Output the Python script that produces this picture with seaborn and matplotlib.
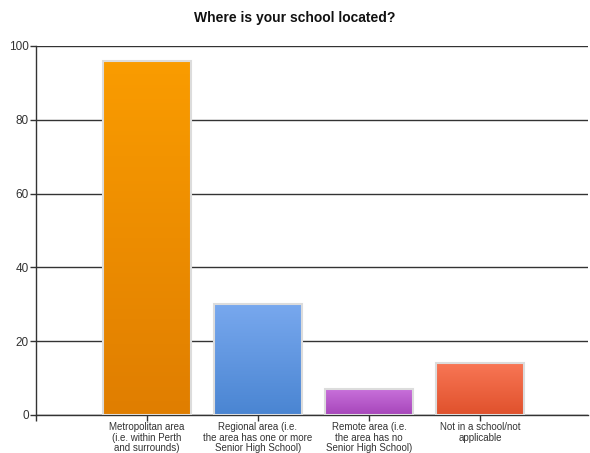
import numpy as np
import pandas as pd
import matplotlib
matplotlib.use("Agg")
import matplotlib.pyplot as plt
import seaborn as sns

categories = [
    "Metropolitan area\n(i.e. within Perth\nand surrounds)",
    "Regional area (i.e.\nthe area has one or more\nSenior High School)",
    "Remote area (i.e.\nthe area has no\nSenior High School)",
    "Not in a school/not\napplicable",
]
values = [96, 30, 7, 14]
top_colors = ["#FA9C00", "#78A8EE", "#C870DA", "#F87655"]
bottom_colors = ["#E07E00", "#4A85D2", "#A646BA", "#E0512C"]
yticks = [0, 20, 40, 60, 80, 100]

sns.set_style("white")
plt.rcParams["font.family"] = ["Liberation Sans", "DejaVu Sans"]

fig = plt.figure(figsize=(5.9, 4.53), dpi=100)
ax = fig.add_axes([0.061, 0.084, 0.935, 0.8145])

df = pd.DataFrame({"cat": categories, "val": values})
sns.barplot(data=df, x="cat", y="val", hue="cat", palette=top_colors,
            legend=False, width=0.8, ax=ax, edgecolor="#DCDCDC", linewidth=1.5,
            saturation=1, zorder=3)

# gradient fill on each bar
for patch, c1, c2 in zip(ax.patches, top_colors, bottom_colors):
    x0, y0 = patch.get_x(), patch.get_y()
    w, h = patch.get_width(), patch.get_height()
    cmap = matplotlib.colors.LinearSegmentedColormap.from_list("g", [c2, c1])
    grad = np.linspace(0, 1, 100).reshape(-1, 1)
    im = ax.imshow(grad, extent=[x0, x0 + w, y0, y0 + h], origin="lower",
                   cmap=cmap, aspect="auto", zorder=3.5)
    im.set_clip_path(patch)
    patch.set_facecolor("none")
    patch.set_zorder(4)

ax.set_xlim(-1, 3.97)
ax.set_ylim(0, 100)
ax.set_yticks(yticks)
ax.set_yticklabels([str(v) for v in yticks])
ax.set_xticks([-1], minor=True)
ax.yaxis.grid(True, color="#333333", linewidth=1, zorder=1)
ax.set_axisbelow(True)
ax.set_xlabel("")
ax.set_ylabel("")

for s in ["top", "right"]:
    ax.spines[s].set_visible(False)
for s in ["left", "bottom"]:
    ax.spines[s].set_color("#333333")
    ax.spines[s].set_linewidth(1)

ax.tick_params(axis="both", which="both", direction="out", length=4, width=1,
               color="#333333", labelcolor="#333333", bottom=True, left=True)
ax.tick_params(axis="x", labelsize=7, pad=1)
ax.tick_params(axis="y", labelsize=8.5, pad=1)
for lbl in ax.get_xticklabels():
    lbl.set_linespacing(1.1)

fig.suptitle("Where is your school located?", x=0.5, y=0.975, fontsize=10,
             fontweight="bold", color="#111111")

fig.savefig("out.png", dpi=100)
